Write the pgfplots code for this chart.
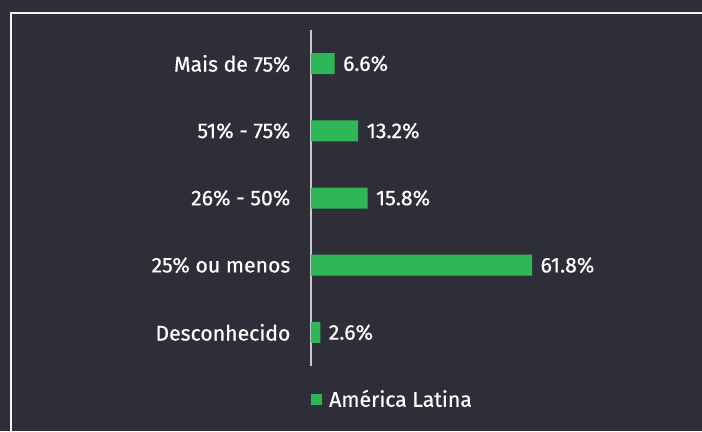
\documentclass[border=0pt]{standalone}
\usepackage{pgfplots}
\pgfplotsset{compat=1.18}
\usepackage{fontspec}
\setmainfont{Fira Sans}[FakeBold=0.6]
\definecolor{bg}{HTML}{2E2E38}
\definecolor{eygreen}{HTML}{2DB757}
\definecolor{axisgrey}{HTML}{C8C8CC}
\definecolor{framewhite}{HTML}{F4F4F6}
\begin{document}
\begin{tikzpicture}[x=1bp,y=1bp]
\path (0,0) rectangle (702,431);
\begin{scope}
\clip (0,0) rectangle (702,431);
\fill[bg] (0,0) rectangle (702,431);
\fill[framewhite] (9.8,416.8) rectangle (702,419.2);
\fill[framewhite] (9.8,0) rectangle (12.2,419.2);
\end{scope}
\begin{axis}[
  at={(311bp,65bp)}, anchor=south west,
  scale only axis, width=357.7bp, height=336bp,
  xmin=0, xmax=100, ymin=-0.5, ymax=4.5,
  xbar, bar width=21bp, clip=false,
  axis x line=none, axis y line=left,
  axis line style={-, draw=axisgrey, line width=1.2bp},
  y axis line style={-, draw=axisgrey, line width=1.2bp},
  ytick={0,1,2,3,4},
  yticklabels={Desconhecido, 25\% ou menos, 26\% - 50\%, 51\% - 75\%, Mais de 75\%},
  ytick style={draw=none},
  yticklabel style={text=white, font=\fontsize{21.3}{25}\selectfont, xshift=-15bp},
  /pgf/number format/assume math mode=true,
  nodes near coords={\pgfmathprintnumber[fixed, precision=1, fixed zerofill]{\pgfplotspointmeta}\%},
  every node near coord/.append style={text=white, font=\fontsize{21.3}{25}\selectfont, xshift=5bp},
  legend style={at={(0,0)}, anchor=west, yshift=-33bp, draw=none, fill=none, inner xsep=0pt,
    text=white, font=\fontsize{21.3}{25}\selectfont},
  legend image code/.code={\fill[eygreen] (0bp,-5.5bp) rectangle (11bp,5.5bp); \path (0bp,0bp) -- (16bp,0bp);},
]
\addplot[fill=eygreen, draw=none] coordinates {(2.6,0) (61.8,1) (15.8,2) (13.2,3) (6.6,4)};
\legend{América Latina}
\end{axis}
\end{tikzpicture}
\end{document}
